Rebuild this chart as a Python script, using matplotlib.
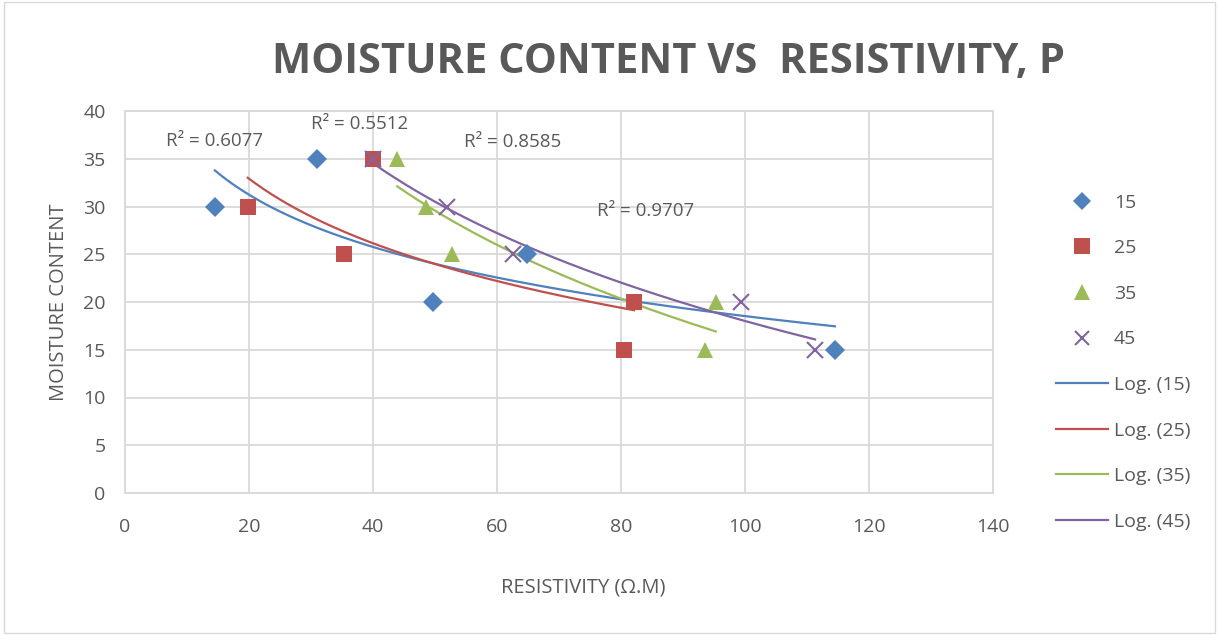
import numpy as np
import matplotlib
matplotlib.use("Agg")
import matplotlib.pyplot as plt
from matplotlib.lines import Line2D
from matplotlib.patches import Rectangle

# ---- data ----
x15 = [14.5, 31.0, 49.7, 64.8, 114.5]
y15 = [30, 35, 20, 25, 15]
x25 = [19.8, 35.3, 40.0, 80.5, 82.1]
y25 = [30, 25, 35, 15, 20]
x35 = [43.9, 48.5, 52.7, 93.5, 95.3]
y35 = [35, 30, 25, 15, 20]
x45 = [40.0, 51.9, 62.6, 99.4, 111.3]
y45 = [35, 30, 25, 20, 15]
series_names = ["15", "25", "35", "45"]
r2_labels = ["R² = 0.6077", "R² = 0.5512", "R² = 0.8585", "R² = 0.9707"]
r2_pos = [(14.5, 36.9), (37.9, 38.6), (62.6, 36.8), (84.0, 29.5)]
xticks = [0, 20, 40, 60, 80, 100, 120, 140]
yticks = [0, 5, 10, 15, 20, 25, 30, 35, 40]

colors = ["#4F81BD", "#C0504D", "#9BBB59", "#8064A2"]
markers = ["D", "s", "^", "x"]
msizes = [10, 12, 12, 11]
txt = "#595959"
font = "Open Sans"

fig = plt.figure(figsize=(12.19, 6.35), dpi=100)
fig.patches.append(Rectangle((0.003, 0.003), 0.994, 0.994, transform=fig.transFigure,
                             fill=False, edgecolor="#D9D9D9", lw=1))
ax = fig.add_axes([125/1219, 1-493/635, (993-125)/1219, (493-111)/635])

ax.set_xlim(0, 140)
ax.set_ylim(0, 40)
ax.set_xticks(xticks)
ax.set_yticks(yticks)
ax.grid(True, color="#D9D9D9", lw=1.3)
ax.set_axisbelow(True)
for s in ax.spines.values():
    s.set_color("#D9D9D9")
    s.set_linewidth(1.3)
ax.tick_params(length=0, labelsize=14, labelcolor=txt)
ax.tick_params(axis="x", pad=18)
ax.tick_params(axis="y", pad=14)
for lab in ax.get_xticklabels() + ax.get_yticklabels():
    lab.set_fontfamily(font)

xs = [x15, x25, x35, x45]
ys = [y15, y25, y35, y45]
handles_m = []
handles_l = []
for i in range(4):
    x = np.array(xs[i], float)
    y = np.array(ys[i], float)
    a, b = np.polyfit(np.log(x), y, 1)
    xx = np.linspace(x.min(), x.max(), 200)
    ax.plot(xx, a*np.log(xx)+b, color=colors[i], lw=1.6, zorder=2)
    mew = 1.5 if markers[i] == "x" else 0
    ax.plot(x, y, linestyle="none", marker=markers[i], ms=msizes[i], color=colors[i],
            mec=colors[i], mew=mew, zorder=3)
    handles_m.append(Line2D([], [], linestyle="none", marker=markers[i], ms=msizes[i]*0.95,
                            color=colors[i], mew=mew))
    handles_l.append(Line2D([], [], color=colors[i], lw=1.6))
    ax.text(r2_pos[i][0], r2_pos[i][1], r2_labels[i], ha="center", va="center",
            fontsize=13.5, color=txt, family=font)

labels = series_names + ["Log. (%s)" % n for n in series_names]
leg = fig.legend(handles_m + handles_l, labels, loc="upper left",
                 bbox_to_anchor=(1038/1219, 1-176/635), frameon=False,
                 prop={"family": font, "size": 14}, labelcolor=txt,
                 labelspacing=1.42, handlelength=2.7, handletextpad=0.3)

ax.set_xlabel("RESISTIVITY (Ω.M)", fontsize=14.5, color=txt, family=font)
ax.xaxis.set_label_coords((583-125)/868, -(588-493)/382)
ax.xaxis.label.set_va("center")
ax.set_ylabel("MOISTURE CONTENT", fontsize=14.5, color=txt, family=font, labelpad=10)

fig.text(668/1219, 1-62/635, "MOISTURE CONTENT VS  RESISTIVITY, P", ha="center", va="center",
         fontsize=30, fontweight="bold", color=txt, family=font)

fig.savefig("out.png", dpi=100)
